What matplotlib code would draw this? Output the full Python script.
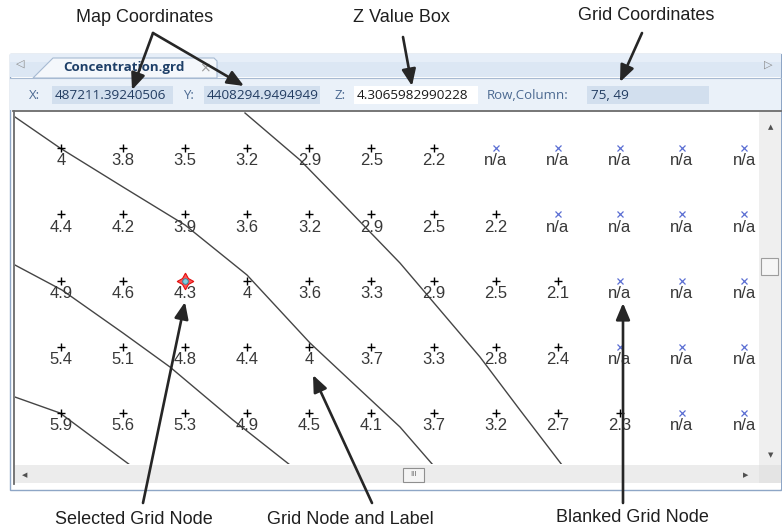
import matplotlib
matplotlib.use('Agg')
import matplotlib.pyplot as plt
from matplotlib.patches import Rectangle, Polygon, FancyArrowPatch

plt.rcParams['font.family'] = ['Liberation Sans', 'DejaVu Sans']

# ---------------- data ----------------
col_numbers = [1, 2, 3, 4, 5, 6, 7, 8, 9, 10, 11, 12]
row_numbers = [1, 2, 3, 4, 5]
row1_values = [4, 3.8, 3.5, 3.2, 2.9, 2.5, 2.2, None, None, None, None, None]
row2_values = [4.4, 4.2, 3.9, 3.6, 3.2, 2.9, 2.5, 2.2, None, None, None, None]
row3_values = [4.9, 4.6, 4.3, 4, 3.6, 3.3, 2.9, 2.5, 2.1, None, None, None]
row4_values = [5.4, 5.1, 4.8, 4.4, 4, 3.7, 3.3, 2.8, 2.4, None, None, None]
row5_values = [5.9, 5.6, 5.3, 4.9, 4.5, 4.1, 3.7, 3.2, 2.7, 2.3, None, None]
grid_values = [row1_values, row2_values, row3_values, row4_values, row5_values]
selected_node = (3, 3)  # (row, column) in view

# contour lines (column, row coordinates in the view)
contour_a_cols = [0.259, 0.984, 1.998, 2.997, 3.995, 5.010, 5.734, 6.459, 6.990]
contour_a_rows = [0.532, 1.000, 1.588, 2.161, 2.915, 3.941, 4.575, 5.208, 5.781]
contour_b_cols = [0.259, 1.016, 1.998, 2.755, 3.770, 4.688]
contour_b_rows = [2.765, 3.142, 3.790, 4.303, 5.103, 5.781]
contour_c_cols = [0.259, 0.984, 2.111]
contour_c_rows = [4.756, 4.997, 5.781]
contour_d_cols = [3.963, 4.849, 5.493, 6.459, 7.103, 7.747, 8.391, 9.068]
contour_d_rows = [0.472, 1.181, 1.799, 2.735, 3.443, 4.152, 4.952, 5.781]

x_text = "487211.39240506"
y_text = "4408294.9494949"
z_text = "4.3065982990228"
rowcol_text = "75, 49"
tab_title = "Concentration.grd"

# ---------------- figure ----------------
W, H = 782, 530
fig = plt.figure(figsize=(W / 100, H / 100), dpi=100)
fig.patch.set_facecolor('white')

bg = fig.add_axes([0, 0, 1, 1])
bg.set_xlim(0, W)
bg.set_ylim(H, 0)
bg.axis('off')
bg.set_zorder(0)

def rect(ax, x0, y0, x1, y1, fc, ec='none', lw=0, z=1):
    ax.add_patch(Rectangle((x0, y0), x1 - x0, y1 - y0, facecolor=fc,
                           edgecolor=ec, linewidth=lw, zorder=z))

UI_FONT = ['Open Sans', 'DejaVu Sans']

# window frame
rect(bg, 9.5, 53.5, 781, 489.5, '#ffffff', ec='#8ea6c6', lw=1.0, z=1)
# tab bar
rect(bg, 10, 54, 781, 77, '#dce7f4', z=2)
rect(bg, 10, 54, 781, 62, '#e6eef8', z=2)
bg.plot([10, 781], [77.5, 77.5], color='#a7bad2', lw=0.8, zorder=3)
# tab
bg.add_patch(Polygon([(33, 78), (53, 58), (214, 58), (217, 61), (217, 78)],
                     closed=True, facecolor='#f4f7fb', edgecolor='#a7bad2',
                     linewidth=0.8, zorder=4))
bg.text(124, 67.5, tab_title, fontsize=9.6, fontweight='bold', color='#1e3f68',
        ha='center', va='center', family=UI_FONT, zorder=5)
bg.text(205, 68, '×', fontsize=10, color='#9a9a9a', ha='center', va='center',
        family=['DejaVu Sans'], zorder=5)
bg.text(20, 64, '◁', fontsize=8, color='#8a8a8a', ha='center', va='center',
        family=['DejaVu Sans'], zorder=5)
bg.text(768, 65, '▷', fontsize=8, color='#8a8a8a', ha='center', va='center',
        family=['DejaVu Sans'], zorder=5)
# toolbar row
rect(bg, 10, 78, 781, 110, '#eaf1f9', z=2)
lab_col = '#4b6991'
val_col = '#233d62'
bg.text(35, 95.5, 'X:', fontsize=9.5, color=lab_col, ha='center', va='center', family=UI_FONT, zorder=5)
rect(bg, 52, 86, 173, 104, '#d2dfee', z=3)
bg.text(55, 95.5, x_text, fontsize=9.7, color=val_col, ha='left', va='center', family=UI_FONT, zorder=5)
bg.text(188, 95.5, 'Y:', fontsize=9.5, color=lab_col, ha='center', va='center', family=UI_FONT, zorder=5)
rect(bg, 204, 86, 320, 104, '#d2dfee', z=3)
bg.text(207, 95.5, y_text, fontsize=9.7, color=val_col, ha='left', va='center', family=UI_FONT, zorder=5)
bg.text(340, 95.5, 'Z:', fontsize=9.5, color=lab_col, ha='center', va='center', family=UI_FONT, zorder=5)
rect(bg, 354, 86, 478, 104, '#ffffff', z=3)
bg.text(357, 95.5, z_text, fontsize=9.7, color='#1a1a1a', ha='left', va='center', family=UI_FONT, zorder=5)
bg.text(487, 95.5, 'Row,Column:', fontsize=9.5, color=lab_col, ha='left', va='center', family=UI_FONT, zorder=5)
rect(bg, 587, 86, 709, 104, '#d2dfee', z=3)
bg.text(591, 95.5, rowcol_text, fontsize=9.7, color=val_col, ha='left', va='center', family=UI_FONT, zorder=5)

# grid frame
bg.plot([13, 781], [111, 111], color='#6b6b6b', lw=1.3, zorder=5)
bg.plot([14, 14], [111, 484], color='#6b6b6b', lw=1.3, zorder=5)
# vertical scrollbar
rect(bg, 759, 112, 781, 465, '#efefef', z=3)
bg.text(771, 127, '▲', fontsize=5, color='#505050', ha='center', va='center', family=['DejaVu Sans'], zorder=5)
bg.text(771, 455, '▼', fontsize=5, color='#505050', ha='center', va='center', family=['DejaVu Sans'], zorder=5)
rect(bg, 760.5, 257.5, 778, 275, '#f6f6f6', ec='#9d9d9d', lw=0.8, z=4)
# horizontal scrollbar
rect(bg, 15, 465, 759, 483, '#ececec', z=3)
rect(bg, 759, 465, 781, 483, '#e4e4e4', z=3)
bg.text(25, 475, '◀', fontsize=5, color='#505050', ha='center', va='center', family=['DejaVu Sans'], zorder=5)
bg.text(746, 475, '▶', fontsize=5, color='#505050', ha='center', va='center', family=['DejaVu Sans'], zorder=5)
rect(bg, 402.5, 467.5, 424, 481.5, '#f4f4f4', ec='#8f8f8f', lw=0.8, z=4)
bg.text(413.2, 474.5, 'III', fontsize=5.5, color='#666666', ha='center', va='center', zorder=5)
rect(bg, 15, 483, 781, 489, '#ffffff', z=3)

# ---------------- grid view ----------------
ax = fig.add_axes([15 / W, 1 - 464 / H, (759 - 15) / W, (464 - 112) / H])
ax.set_zorder(2)
ax.set_xlim(0.2593, 12.240)
ax.set_ylim(5.766, 0.457)
ax.axis('off')
ax.patch.set_visible(True)

for cols, rows in [(contour_a_cols, contour_a_rows), (contour_b_cols, contour_b_rows),
                   (contour_c_cols, contour_c_rows), (contour_d_cols, contour_d_rows)]:
    ax.plot(cols, rows, color='#454545', lw=1.0, zorder=2)

for r, vals in zip(row_numbers, grid_values):
    for c, v in zip(col_numbers, vals):
        if v is None:
            ax.plot(c, r, marker='x', ms=4.6, mew=0.9, color='#5b6ed3', zorder=4)
            lab = 'n/a'
        else:
            if (r, c) != selected_node:
                ax.plot(c, r, marker='+', ms=5.5, mew=1.0, color='black', zorder=4)
            lab = f'{v:g}'
        ax.annotate(lab, (c, r), xytext=(0, -9.2), textcoords='offset points',
                    ha='center', va='center', fontsize=12, color='#383838', zorder=5)

sr, sc = selected_node
ax.plot(sc, sr, marker=(4, 1, 0), ms=12, mfc='#ff5555', mec='#e01010', mew=0.8, zorder=6)
ax.plot(sc, sr, marker='o', ms=4, mfc='#7fd0e0', mec='#2a7f9a', mew=0.6, zorder=7)

# ---------------- annotations ----------------
ov = fig.add_axes([0, 0, 1, 1])
ov.set_xlim(0, W)
ov.set_ylim(H, 0)
ov.axis('off')
ov.set_zorder(5)
ov.patch.set_alpha(0)

ann_col = '#1f1f1f'
ov.text(145, 17, 'Map Coordinates', fontsize=13, color=ann_col, ha='center', va='center')
ov.text(401, 17, 'Z Value Box', fontsize=13, color=ann_col, ha='center', va='center')
ov.text(646, 16, 'Grid Coordinates', fontsize=13, color=ann_col, ha='center', va='center')
ov.text(134, 520, 'Selected Grid Node', fontsize=13, color=ann_col, ha='center', va='center')
ov.text(350, 520, 'Grid Node and Label', fontsize=13, color=ann_col, ha='center', va='center')
ov.text(632, 518, 'Blanked Grid Node', fontsize=13, color=ann_col, ha='center', va='center')

arrows = [((153, 33), (132, 90)), ((153, 33), (244, 86)), ((403, 37), (412, 86)),
          ((642, 33), (620, 82)), ((143, 503), (185, 302)), ((372, 503), (313, 375)),
          ((623, 503), (623, 303))]
for (x0, y0), (x1, y1) in arrows:
    ov.add_patch(FancyArrowPatch((x0, y0), (x1, y1),
                                 arrowstyle='-|>,head_length=1.0,head_width=0.42',
                                 mutation_scale=10, color='#262626', lw=1.9,
                                 shrinkA=0, shrinkB=0, zorder=10))

fig.savefig('out.png', dpi=100)
